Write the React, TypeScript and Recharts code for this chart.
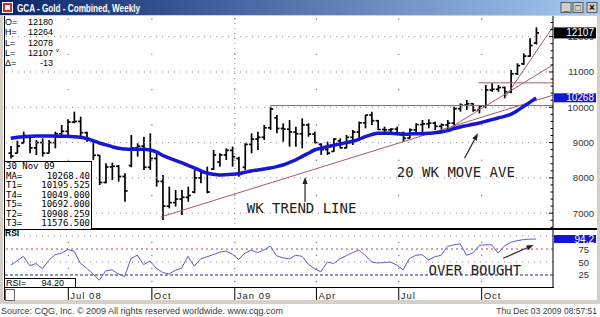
import {
  Bar,
  ComposedChart,
  Line,
  ReferenceArea,
  ReferenceDot,
  ReferenceLine,
  XAxis,
  YAxis,
} from "recharts";

// weekly bars, price x10 (12107 = $1210.7), first bar = week of 28 Apr 2008
const highs = [
  8904, 9055, 9310, 9168, 9074, 9121, 9074, 9310, 9498, 9659,
  9876, 9734, 9310, 9074, 8649, 8413, 8432, 8366, 8130, 9215,
  8979, 9168, 9262, 8743, 8082, 7752, 7658, 7658, 7752, 8224,
  8224, 8318, 8790, 8696, 8838, 8885, 8602, 8979, 9262, 9310,
  9498, 10018, 9782, 9546, 9640, 9451, 9687, 9546, 9310, 8979,
  9026, 9121, 9121, 9215, 9357, 9593, 9782, 9876, 9640, 9451,
  9404, 9451, 9310, 9404, 9546, 9640, 9659, 9593, 9546, 9640,
  10018, 10112, 10206, 10112, 10065, 10631, 10678, 10631, 10584, 11056,
  11245, 11528, 11953, 12264,
];
const lows = [
  8550, 8696, 8979, 8696, 8649, 8602, 8696, 8838, 9168, 9215,
  9546, 9168, 9026, 8507, 7799, 7846, 7941, 7894, 7327, 8300,
  8602, 8224, 8224, 7752, 6808, 7138, 7186, 6950, 7327, 7563,
  7846, 7563, 8224, 8318, 8507, 8318, 8035, 8224, 8696, 8790,
  9074, 9357, 9262, 9026, 8885, 8885, 8838, 9168, 8979, 8649,
  8649, 8743, 8838, 8838, 8932, 9121, 9404, 9498, 9357, 9215,
  9215, 9215, 9026, 9121, 9262, 9262, 9404, 9357, 9310, 9357,
  9451, 9876, 9923, 9876, 9829, 9970, 10442, 10442, 10254, 10395,
  10914, 11198, 11434, 11780,
];
const opens = [
  8700, 8700, 8990, 9150, 8850, 9000, 8700, 9000, 9250, 9320,
  9580, 9600, 9280, 9050, 8640, 7870, 8310, 8330, 8040, 8350,
  8850, 8900, 8300, 8550, 7900, 7200, 7300, 7400, 7450, 7600,
  8000, 8150, 8250, 8450, 8650, 8780, 8550, 8300, 8950, 9100,
  9150, 9420, 9700, 9400, 9380, 9300, 9250, 9500, 9240, 8950,
  8800, 8750, 9050, 8850, 9150, 9300, 9560, 9780, 9620, 9370,
  9360, 9380, 9270, 9130, 9360, 9510, 9530, 9550, 9460, 9500,
  9550, 9960, 10060, 10100, 9920, 10030, 10490, 10510, 10560, 10440,
  10950, 11230, 11450, 11820,
];
const closes = [
  8620, 8900, 9200, 8850, 9000, 8700, 9000, 9250, 9320, 9580,
  9600, 9280, 9120, 8640, 7870, 8310, 8330, 8040, 7630, 8850,
  8900, 8300, 8550, 7900, 7200, 7300, 7400, 7450, 7500, 8000,
  8150, 7600, 8650, 8650, 8780, 8600, 8100, 8950, 9100, 9150,
  9420, 9950, 9400, 9380, 9300, 9250, 9500, 9240, 9000, 8800,
  8700, 9100, 8850, 9150, 9300, 9560, 9780, 9620, 9370, 9360,
  9380, 9270, 9120, 9360, 9510, 9530, 9550, 9460, 9500, 9550,
  9960, 10060, 10100, 9920, 10030, 10490, 10510, 10560, 10440, 10950,
  11180, 11450, 11750, 12107,
];
// 20 week moving average
const movingAvg = [
  9121, 9149, 9168, 9177, 9187, 9187, 9187, 9187, 9177, 9177,
  9168, 9149, 9111, 9055, 8989, 8941, 8885, 8838, 8819, 8809,
  8809, 8809, 8790, 8734, 8639, 8564, 8498, 8432, 8356, 8281,
  8205, 8139, 8101, 8082, 8092, 8101, 8120, 8158, 8196, 8224,
  8252, 8281, 8318, 8366, 8432, 8507, 8602, 8696, 8790, 8838,
  8885, 8923, 8960, 8998, 9036, 9092, 9168, 9225, 9262, 9262,
  9262, 9253, 9234, 9243, 9253, 9253, 9262, 9281, 9300, 9338,
  9394, 9442, 9480, 9517, 9555, 9602, 9649, 9697, 9744, 9800,
  9904, 10018, 10140, 10268.4,
];
const rsiValues = [
  44, 52, 61, 43, 47, 37, 53, 64, 67, 74,
  71, 48, 38, 27, 15, 33, 35, 27, 22, 57,
  63, 45, 52, 38, 30, 27, 34, 38, 61, 42,
  56, 60, 64, 69, 71, 65, 55, 67, 73, 68,
  73, 81, 62, 58, 56, 63, 61, 46, 37, 31,
  50, 47, 56, 62, 68, 73, 63, 50, 48, 49,
  50, 44, 35, 57, 63, 64, 54, 60, 63, 80,
  83, 85, 63, 67, 82, 83, 83, 67, 81, 88,
  91, 93, 94, 94.2,
];

const monthTickIdx = [9.1, 22.3, 35.4, 48.3, 61.3, 74.4];
const monthLabels = ["Jul 08", "Oct", "Jan 09", "Apr", "Jul", "Oct"];
const priceGrid = [7000, 8000, 9000, 10000, 11000, 12000];
const priceHalfLevels = [7500, 8500, 9500, 10500, 11500, 12500];
const rsiHalfLevels = [12.5, 37.5, 62.5, 87.5];

const stripStarts = [6.5, 15.7, 22.3, 34.2, 42.1, 51.2, 60.2, 68.3, 77.3];
const stripEnds = [15.7, 22.3, 34.2, 42.1, 51.2, 60.2, 68.3, 77.3, 85.6];
const stripColors = ["#000", "#a82424", "#22a040", "#b8b8b8", "#000", "#a82424", "#22a040", "#b8b8b8", "#000"];

// trend lines: start bar, start price, value at the last bar (the T readouts)
const trendNames = ["T1", "T4", "T5", "T2", "T3"];
const trendStartIdx = [23.7, 41, 73.9, 69.5, 78];
const trendStartVal = [6892, 10049, 10692, 9430, 10254];
const trendLastVal = [10195.525, 10049, 10692, 10908.259, 11576.5];

const readoutLabels = ["O=", "H=", "L=", "L=", "Δ="];
const readoutValues = ["12180", "12264", "12078", "12107", "-13"];

const xDomain: [number, number] = [-1.06, 85.67];
const priceDomain: [number, number] = [6552, 12586];
const rsiDomain: [number, number] = [1.9, 113.5];
const lastIdx = highs.length - 1;

const rows = highs.map((h, i) => ({
  i,
  range: [lows[i], h],
  open: opens[i],
  close: closes[i],
  ma: movingAvg[i],
  rsi: rsiValues[i],
}));

const axisTicks = [
  ...Array.from({ length: 30 }, (_, k) => 6600 + k * 200),
  closes[lastIdx],
  movingAvg[lastIdx],
];

const trendColor = "#a65a6e";
const axisFont = "'Liberation Sans', Arial, sans-serif";
const noteFont = "'DejaVu Sans Mono', monospace";

function OhlcShape(props: any) {
  const { x, y, width, height, payload } = props;
  if (x == null || y == null) return null;
  const top = Math.min(y, y + height);
  const h = Math.abs(height);
  const [lo, hi] = payload.range;
  const span = hi - lo || 1;
  const cx = x + width / 2;
  const yo = top + ((hi - payload.open) / span) * h;
  const yc = top + ((hi - payload.close) / span) * h;
  return (
    <g stroke="#000" strokeWidth={1.7}>
      <line x1={cx} x2={cx} y1={top} y2={top + h} />
      <line x1={cx - 2.6} x2={cx} y1={yo} y2={yo} />
      <line x1={cx} x2={cx + 2.6} y1={yc} y2={yc} />
    </g>
  );
}

function ValueBox({ x, y, fill, text, h = 11 }: any) {
  return (
    <g>
      <rect x={x + 1} y={y - h / 2} width={42} height={h} fill={fill} />
      <text x={x + 41} y={y + 3.5} textAnchor="end" fontSize={10} fill="#fff" fontFamily={axisFont}>
        {text}
      </text>
    </g>
  );
}

function PriceTick(props: any) {
  const { x, y, payload } = props;
  const v = payload.value;
  if (v === closes[lastIdx]) return <ValueBox x={x} y={y} fill="#000" text={String(v)} />;
  if (v === movingAvg[lastIdx]) return <ValueBox x={x} y={y} fill="#1414d4" text={String(Math.round(v))} h={9} />;
  const major = v % 1000 === 0;
  return (
    <g>
      <line x1={x - (major ? 4 : 2.5)} x2={x} y1={y} y2={y} stroke="#000" />
      {major && (
        <text x={x + 41} y={y + 3.5} textAnchor="end" fontSize={9.5} fill="#333" fontFamily={axisFont}>
          {v}
        </text>
      )}
    </g>
  );
}

function RsiTick(props: any) {
  const { x, y, payload } = props;
  const v = payload.value;
  if (v === rsiValues[lastIdx]) return <ValueBox x={x} y={y} fill="#1414d4" text={v.toFixed(1)} h={8} />;
  return (
    <text x={x + 36} y={y + 3.5} textAnchor="end" fontSize={9.5} fill="#333" fontFamily={axisFont}>
      {v}
    </text>
  );
}

function MonthTick(props: any) {
  const { x, y, payload } = props;
  const label = monthLabels[monthTickIdx.indexOf(payload.value)];
  return (
    <g>
      <line x1={x} x2={x} y1={y - 3} y2={y + 9} stroke="#000" />
      <text x={x + 2} y={y + 8} fontSize={9.5} letterSpacing={1} fill="#222" fontFamily={axisFont}>
        {label}
      </text>
    </g>
  );
}

function ArrowShape(props: any) {
  const { x1, y1, x2, y2 } = props;
  if ([x1, y1, x2, y2].some((v) => v == null)) return null;
  const a = Math.atan2(y2 - y1, x2 - x1);
  const bx = x2 - 7 * Math.cos(a);
  const by = y2 - 7 * Math.sin(a);
  const px = -Math.sin(a) * 2.6;
  const py = Math.cos(a) * 2.6;
  return (
    <g>
      <line x1={x1} y1={y1} x2={bx} y2={by} stroke="#222" strokeWidth={1.2} />
      <polygon points={`${x2},${y2} ${bx + px},${by + py} ${bx - px},${by - py}`} fill="#222" />
    </g>
  );
}

function noteShape(text: string) {
  return (p: any) => (
    <text x={p.cx} y={p.cy} fontSize={14} fill="#222" fontFamily={noteFont}>
      {text}
    </text>
  );
}

function trendEnd(k: number) {
  const slope = (trendLastVal[k] - trendStartVal[k]) / (lastIdx - trendStartIdx[k]);
  return trendStartVal[k] + slope * (xDomain[1] - trendStartIdx[k]);
}

function PriceChart() {
  return (
    <ComposedChart width={594} height={213} data={rows} margin={{ top: 0, right: 0, bottom: 0, left: 1 }}>
      <XAxis type="number" dataKey="i" domain={xDomain} hide allowDataOverflow />
      <YAxis
        orientation="right"
        width={44}
        domain={priceDomain}
        allowDataOverflow
        ticks={axisTicks}
        interval={0}
        tickSize={0}
        tickMargin={0}
        tickLine={false}
        axisLine={{ stroke: "#000" }}
        tick={<PriceTick />}
      />
      {priceGrid.map((v) => (
        <ReferenceLine key={v} y={v} stroke="#8a8a8a" strokeDasharray="1 5" />
      ))}
      <ReferenceLine x={monthTickIdx[2]} stroke="#8a8a8a" strokeDasharray="1 4" />
      {monthTickIdx.map((m) =>
        priceHalfLevels.map((v) => (
          <ReferenceDot key={`${m}-${v}`} x={m} y={v} r={0.7} fill="#777" stroke="none" />
        )),
      )}
      {trendNames.map((n, k) => (
        <ReferenceLine
          key={n}
          ifOverflow="hidden"
          stroke={trendColor}
          strokeWidth={1}
          segment={[
            { x: trendStartIdx[k], y: trendStartVal[k] },
            { x: xDomain[1], y: trendEnd(k) },
          ]}
        />
      ))}
      <Bar dataKey="range" barSize={5} shape={<OhlcShape />} isAnimationActive={false} />
      <Line
        dataKey="ma"
        type="monotone"
        stroke="#1616d6"
        strokeWidth={3.5}
        dot={false}
        activeDot={false}
        isAnimationActive={false}
      />
      <ReferenceLine segment={[{ x: 46.5, y: 7317 }, { x: 46.5, y: 8025 }]} shape={ArrowShape} />
      <ReferenceLine segment={[{ x: 71.7, y: 8555 }, { x: 73.8, y: 9263 }]} shape={ArrowShape} />
      <ReferenceDot x={37.3} y={6997} r={0} shape={noteShape("WK TREND LINE")} />
      <ReferenceDot x={61.0} y={8037} r={0} shape={noteShape("20 WK MOVE AVE")} />
    </ComposedChart>
  );
}

function RsiChart() {
  return (
    <ComposedChart width={594} height={58} data={rows} margin={{ top: 0, right: 0, bottom: 0, left: 1 }}>
      <XAxis type="number" dataKey="i" domain={xDomain} hide allowDataOverflow />
      <YAxis
        orientation="right"
        width={44}
        domain={rsiDomain}
        allowDataOverflow
        ticks={[25, 50, 75, rsiValues[lastIdx]]}
        interval={0}
        tickSize={0}
        tickMargin={0}
        tickLine={false}
        axisLine={{ stroke: "#000" }}
        tick={<RsiTick />}
      />
      <ReferenceLine y={100} stroke="#8a8a8a" strokeDasharray="1 5" />
      <ReferenceLine y={75} stroke="#cc3b3b" strokeDasharray="2 3" />
      <ReferenceLine y={50} stroke="#8a8a8a" strokeDasharray="1 5" />
      <ReferenceLine y={25} stroke="#2a2a8a" strokeDasharray="3 2" />
      {monthTickIdx.map((m) =>
        rsiHalfLevels.map((v) => (
          <ReferenceDot key={`${m}-${v}`} x={m} y={v} r={0.7} fill="#777" stroke="none" />
        )),
      )}
      <Line
        dataKey="rsi"
        stroke="#5b5bd6"
        strokeWidth={1}
        dot={false}
        activeDot={false}
        isAnimationActive={false}
      />
      <ReferenceLine segment={[{ x: 77.8, y: 57.1 }, { x: 82.6, y: 82.7 }]} shape={ArrowShape} />
      <ReferenceDot x={66.0} y={25} r={0} shape={noteShape("OVER BOUGHT")} />
    </ComposedChart>
  );
}

function TimeStrip() {
  return (
    <ComposedChart width={594} height={13} data={rows} margin={{ top: 1, right: 44, bottom: 0, left: 1 }}>
      <XAxis
        type="number"
        dataKey="i"
        domain={xDomain}
        allowDataOverflow
        ticks={monthTickIdx}
        interval={0}
        height={9}
        tickSize={0}
        tickMargin={0}
        tickLine={false}
        axisLine={false}
        tick={<MonthTick />}
      />
      <YAxis hide domain={[0, 1]} />
      {stripColors.map((c, k) => (
        <ReferenceArea
          key={k}
          x1={stripStarts[k]}
          x2={stripEnds[k]}
          y1={0}
          y2={1}
          fill={c}
          fillOpacity={1}
          stroke="none"
          ifOverflow="hidden"
        />
      ))}
    </ComposedChart>
  );
}

function TitleBar() {
  return (
    <svg width={600} height={15} style={{ position: "absolute", left: 0, top: 0 }}>
      <defs>
        <linearGradient id="tb" x1="0" x2="1" y1="0" y2="0">
          <stop offset="0" stopColor="#0a246a" />
          <stop offset="1" stopColor="#a6caf0" />
        </linearGradient>
      </defs>
      <rect width={600} height={15} fill="url(#tb)" />
      <rect x={2} y={2} width={11} height={11} fill="#fff" />
      <rect x={3} y={3} width={9} height={9} fill="#c83030" />
      <rect x={5} y={5} width={5} height={5} fill="#f0f0f0" />
      <text
        x={17}
        y={12}
        fill="#fff"
        fontWeight="bold"
        fontSize={11}
        fontFamily={axisFont}
        textLength={123}
        lengthAdjust="spacingAndGlyphs"
      >
        GCA - Gold - Combined, Weekly
      </text>
      {["_", "□", "×"].map((s, k) => (
        <g key={s}>
          <rect x={561 + k * 12 + (k === 2 ? 2 : 0)} y={2.5} width={10} height={10} fill="#d4d0c8" stroke="#404040" strokeWidth={0.8} />
          <text
            x={566 + k * 12 + (k === 2 ? 2 : 0)}
            y={k === 0 ? 10 : 11}
            textAnchor="middle"
            fontSize={k === 1 ? 9 : 10}
            fontWeight="bold"
            fill="#000"
            fontFamily={axisFont}
          >
            {s}
          </text>
        </g>
      ))}
    </svg>
  );
}

const line = (top: number, h: number) => ({ position: "absolute" as const, left: 1, top, height: h });

export default function App() {
  return (
    <div
      style={{
        position: "relative",
        width: 600,
        height: 317,
        background: "#d4d0c8",
        overflow: "hidden",
        fontFamily: axisFont,
      }}
    >
      <style>{"body{margin:0}"}</style>
      <TitleBar />
      <div style={{ position: "absolute", left: 3, top: 16, width: 594, height: 284, background: "#fff" }}>
        <div style={{ position: "absolute", left: 0, top: 0 }}>
          <PriceChart />
        </div>
        <div style={{ position: "absolute", left: 0, top: 213 }}>
          <RsiChart />
        </div>
        <div style={{ position: "absolute", left: 0, top: 271 }}>
          <TimeStrip />
        </div>
        {/* panel frame */}
        <div style={{ ...line(0, 284), width: 1, background: "#000" }} />
        <div style={{ ...line(212, 2), width: 593, background: "#000" }} />
        <div style={{ ...line(271, 1), width: 550, background: "#000" }} />
        <div style={{ position: "absolute", left: 2, top: 273, width: 8, height: 10, border: "1px solid #666", background: "#fff" }} />

        {/* OHLC readout */}
        {readoutLabels.map((l, k) => (
          <div
            key={k}
            style={{
              position: "absolute",
              left: 2,
              top: 1 + k * 10.25,
              width: 48,
              height: 10,
              fontSize: 9,
              lineHeight: "10px",
              color: "#000",
            }}
          >
            <span>{l}</span>
            <span style={{ position: "absolute", right: 0 }}>{readoutValues[k]}</span>
            {k === 3 && <span style={{ position: "absolute", left: 51, top: -3, fontSize: 6 }}>v</span>}
          </div>
        ))}

        {/* study values box */}
        <div
          style={{
            position: "absolute",
            left: 1,
            top: 145,
            width: 86,
            height: 67,
            border: "1px solid #000",
            background: "#fff",
            fontFamily: noteFont,
            fontSize: 9,
            lineHeight: "9.5px",
            color: "#000",
          }}
        >
          <div style={{ paddingLeft: 1 }}>30 Nov 09</div>
          {["MA", ...trendNames].map((n, k) => (
            <div key={n} style={{ position: "relative", paddingLeft: 1 }}>
              {n}=
              <span style={{ position: "absolute", right: 1 }}>
                {k === 0 ? movingAvg[lastIdx].toFixed(2) : trendLastVal[k - 1].toFixed(3)}
              </span>
            </div>
          ))}
        </div>

        {/* RSI labels */}
        <div style={{ position: "absolute", left: 2, top: 213, fontSize: 8.5, fontWeight: "bold", lineHeight: "9px" }}>RSI</div>
        <div
          style={{
            position: "absolute",
            left: 1,
            top: 262,
            width: 70,
            height: 8,
            border: "1px solid #000",
            background: "#fff",
            fontSize: 9,
            lineHeight: "8px",
          }}
        >
          <span style={{ paddingLeft: 1 }}>RSI=</span>
          <span style={{ position: "absolute", right: 11 }}>{rsiValues[lastIdx].toFixed(2)}</span>
        </div>
      </div>

      <svg width={600} height={13} style={{ position: "absolute", left: 0, top: 304 }}>
        <rect width={600} height={13} fill="#fff" />
        <text x={1} y={10} fontSize={8.5} fill="#3a3a3a" fontFamily={axisFont} textLength={282} lengthAdjust="spacingAndGlyphs">
          Source: CQG, Inc. © 2009 All rights reserved worldwide. www.cqg.com
        </text>
        <text x={597} y={10} fontSize={8.5} fill="#3a3a3a" textAnchor="end" fontFamily={axisFont}>
          Thu Dec 03 2009 08:57:51
        </text>
      </svg>
    </div>
  );
}
